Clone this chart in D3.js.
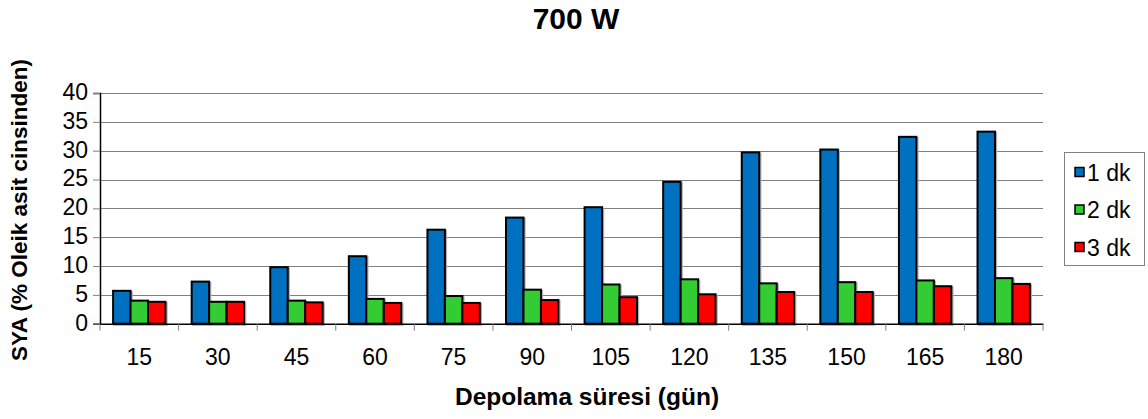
<!DOCTYPE html>
<html><head><meta charset="utf-8">
<script src="https://cdn.jsdelivr.net/npm/d3@7"></script>
<style>body{margin:0;background:#fff}svg{display:block;font-family:"Liberation Sans",Arial,sans-serif}</style>
</head><body>
<svg id="c" width="1148" height="419"></svg>
<script>
const categories = ["15","30","45","60","75","90","105","120","135","150","165","180"];
const series1 = [5.7, 7.3, 9.8, 11.7, 16.3, 18.4, 20.2, 24.6, 29.7, 30.2, 32.4, 33.3];
const series2 = [4.0, 3.8, 4.0, 4.3, 4.8, 5.9, 6.8, 7.7, 7.0, 7.2, 7.5, 7.9];
const series3 = [3.8, 3.8, 3.7, 3.6, 3.6, 4.1, 4.6, 5.1, 5.5, 5.5, 6.5, 6.9];
const seriesNames = ["1 dk","2 dk","3 dk"];
const colors = ["#0070C0","#33CC33","#FF0000"];
const yTicks = [0,5,10,15,20,25,30,35,40];

const FONT = "Liberation Sans, Arial, sans-serif";
const svg = d3.select("#c");
const L=100, R=1043, T=93, B=323.7;
const x = d3.scaleBand().domain(categories).range([L,R]).paddingInner(0).paddingOuter(0);
const y = d3.scaleLinear().domain([0,40]).range([B,T]);
const allSeries=[series1,series2,series3];
const bw = x.bandwidth()/4.5;
const off = bw*0.75;

// gridlines
svg.append("g").selectAll("line").data(yTicks.slice(1)).join("line")
  .attr("x1",L).attr("x2",R).attr("y1",d=>Math.round(y(d))+0.5).attr("y2",d=>Math.round(y(d))+0.5)
  .attr("stroke","#808080").attr("stroke-width",1);

// bar shadows + bars
allSeries.forEach((s,si)=>{
  svg.append("g").selectAll("rect").data(s).join("rect")
    .attr("x",(d,i)=>x(categories[i])+off+si*bw+1.2)
    .attr("y",d=>y(d)+1.2)
    .attr("width",bw).attr("height",d=>B-y(d))
    .attr("fill","none").attr("stroke","#b0b0b0").attr("stroke-width",2);
});
allSeries.forEach((s,si)=>{
  svg.append("g").selectAll("rect").data(s).join("rect")
    .attr("x",(d,i)=>x(categories[i])+off+si*bw)
    .attr("y",d=>y(d))
    .attr("width",bw).attr("height",d=>B-y(d))
    .attr("fill",colors[si]).attr("stroke","#000").attr("stroke-width",2);
});

// y axis
const ya = svg.append("g").attr("transform",`translate(${L},0)`)
  .call(d3.axisLeft(y).tickValues(yTicks).tickSize(7).tickPadding(5));
ya.select(".domain").attr("stroke","#000").attr("stroke-width",1.5);
ya.selectAll(".tick line").attr("stroke","#808080");
ya.selectAll(".tick text").attr("font-size",23).attr("fill","#000").attr("font-family",FONT).attr("dy","0.28em");

// x axis
const xa = svg.append("g").attr("transform",`translate(0,${B})`)
  .call(d3.axisBottom(x).tickSize(0).tickPadding(0));
xa.select(".domain").attr("stroke","#000").attr("stroke-width",1.5);
xa.selectAll(".tick text").attr("font-size",23).attr("fill","#000").attr("font-family",FONT)
  .attr("dy",null).attr("y",41);
const bounds = categories.map(c=>x(c)).concat([R]);
svg.append("g").selectAll("line").data(bounds).join("line")
  .attr("x1",d=>d).attr("x2",d=>d).attr("y1",B).attr("y2",B+7)
  .attr("stroke","#808080").attr("stroke-width",1);

// titles
svg.append("text").attr("x",576).attr("y",29).attr("text-anchor","middle")
  .attr("font-size",30).attr("font-weight","bold").text("700 W");
svg.append("text").attr("x",587).attr("y",405).attr("text-anchor","middle")
  .attr("font-size",24.5).attr("font-weight","bold").text("Depolama süresi (gün)");
svg.append("text").attr("transform","translate(27,210) rotate(-90)").attr("text-anchor","middle")
  .attr("font-size",22.5).attr("font-weight","bold").text("SYA (% Oleik asit cinsinden)");

// legend
const lg = svg.append("g");
lg.append("rect").attr("x",1064.5).attr("y",152.5).attr("width",80).attr("height",113)
  .attr("fill","#fff").attr("stroke","#808080").attr("stroke-width",1);
seriesNames.forEach((n,i)=>{
  const cy = 172 + i*37.5;
  lg.append("rect").attr("x",1075).attr("y",cy-4.5).attr("width",9).attr("height",9)
    .attr("fill",colors[i]).attr("stroke","#000").attr("stroke-width",1.5);
  lg.append("text").attr("x",1087).attr("y",cy+8.5).attr("font-size",23).text(n);
});
</script>
</body></html>
